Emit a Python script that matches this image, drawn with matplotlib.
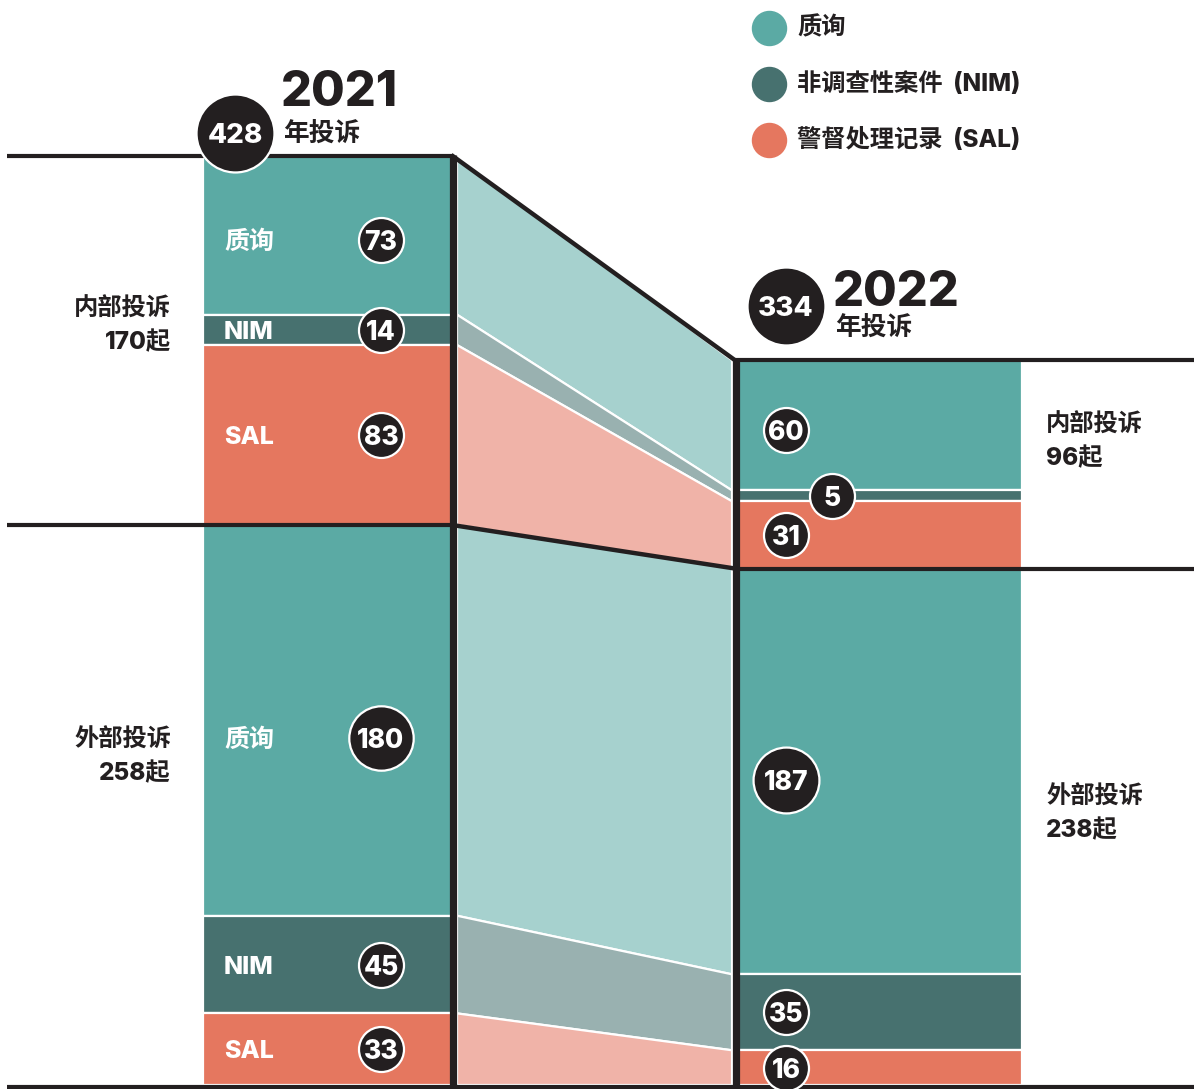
import numpy as np
import matplotlib
matplotlib.use('Agg')
import matplotlib.pyplot as plt

plt.rcParams['font.family'] = ['Inter', 'Noto Sans CJK SC', 'DejaVu Sans']

# data
categories = ['质询', 'NIM', 'SAL']
internal_2021 = [73, 14, 83]
external_2021 = [180, 45, 33]
internal_2022 = [60, 5, 31]
external_2022 = [187, 35, 16]
legend_labels = ['质询', '非调查性案件 (NIM)', '警督处理记录 (SAL)']
group_names = ['内部投诉', '外部投诉']

colors = ['#5BAAA4', '#47716F', '#E5775F']
light = ['#A6D1CE', '#99B1B0', '#F0B3A8']
ink = '#231F20'

K = 2.17  # pixels per complaint
py = lambda p: (1085 - p) / K  # pixel row -> data units (for text placement)

fig = plt.figure(figsize=(11.94, 10.89), dpi=100)
ax = fig.add_axes([0, 0, 1, 1])
ax.set_xlim(0, 1194)
ax.set_ylim(py(1089), py(0))
ax.axis('off')


def stack(internal, external):
    vals = np.array(internal + external, dtype=float)
    tops = vals.sum() - np.concatenate([[0], np.cumsum(vals)[:-1]])
    return vals, tops - vals, tops


v1, b1, t1 = stack(internal_2021, external_2021)
v2, b2, t2 = stack(internal_2022, external_2022)
cols = colors * 2

ax.bar(203, v1, 250, bottom=b1, align='edge', color=cols, edgecolor='white', linewidth=1.6, zorder=2)
ax.bar(735, v2, 287, bottom=b2, align='edge', color=cols, edgecolor='white', linewidth=1.6, zorder=2)

# flows
for i in range(6):
    ax.fill([457, 732, 732, 457], [t1[i], t2[i], b2[i], b1[i]], color=light[i % 3],
            edgecolor='white', linewidth=1.6, zorder=1)

# black frame lines
tot1, tot2 = v1.sum(), v2.sum()
int1, int2 = sum(external_2021), sum(external_2022)
ax.plot([7, 453], [tot1, tot1], color=ink, lw=3, zorder=4, solid_capstyle='butt')
ax.plot([7, 453], [int1, int1], color=ink, lw=3, zorder=4, solid_capstyle='butt')
ax.plot([735, 1194], [tot2, tot2], color=ink, lw=3, zorder=4, solid_capstyle='butt')
ax.plot([735, 1194], [int2, int2], color=ink, lw=3, zorder=4, solid_capstyle='butt')
ax.plot([453, 735], [tot1, tot2], color=ink, lw=3.2, zorder=4)
ax.plot([453, 735], [int1, int2], color=ink, lw=3.2, zorder=4)
ax.plot([453, 453], [0, tot1 + 0.8], color=ink, lw=5.2, zorder=4, solid_capstyle='butt')
ax.plot([735.5, 735.5], [0, tot2 + 0.8], color=ink, lw=5.2, zorder=4, solid_capstyle='butt')
ax.plot([7, 1194], [py(1087), py(1087)], color=ink, lw=3, zorder=4, solid_capstyle='butt')


def badge(x, y, txt, size=1050, fs=19):
    ax.scatter([x], [y], s=size, color=ink, edgecolor='white', linewidth=1.6, zorder=6)
    ax.text(x, y, txt, color='white', fontsize=fs, fontweight='heavy', ha='center',
            va='center_baseline', zorder=7)


mid1 = (t1 + b1) / 2
mid2 = (t2 + b2) / 2
off1 = [-2, 0, 0, -8, 0, 0]
off2 = [-2, 0, 0, -4, 0, 0]
for i in range(6):
    big = v1[i] >= 100
    badge(381, mid1[i] + off1[i], f'{int(v1[i])}', 2150 if big else 1050)
    ax.text(224, mid1[i] + off1[i], categories[i % 3], color='white', fontsize=18,
            fontweight='heavy', ha='left', va='center_baseline', zorder=5)
for i in range(6):
    big = v2[i] >= 100
    x = 832 if v2[i] < 10 else 786
    badge(x, mid2[i] + off2[i], f'{int(v2[i])}', 2250 if big else 1050)

# totals and titles
badge(235, py(133), f'{int(tot1)}', 3150, 20)
badge(786, py(306), f'{int(tot2)}', 3150, 20)
ax.text(281, py(106), '2021', fontsize=35, fontweight='heavy', color=ink, va='baseline')
ax.text(283, py(134), '年投诉', fontsize=18.5, fontweight='heavy', color=ink, va='center')
ax.text(833, py(306), '2022', fontsize=35, fontweight='heavy', color=ink, va='baseline')
ax.text(835, py(328), '年投诉', fontsize=18.5, fontweight='heavy', color=ink, va='center')

# group labels
side = [(171, 309, 'right', group_names[0], f'{sum(internal_2021)}起'),
        (171, 740, 'right', group_names[1], f'{sum(external_2021)}起'),
        (1046, 425, 'left', group_names[0], f'{sum(internal_2022)}起'),
        (1046, 797, 'left', group_names[1], f'{sum(external_2022)}起')]
for x, y, ha, a, b in side:
    ax.text(x, py(y), a, fontsize=17.5, fontweight='heavy', color=ink, ha=ha, va='center')
    ax.text(x, py(y + 33), b, fontsize=17.5, fontweight='heavy', color=ink, ha=ha, va='center')

# legend
for i, lab in enumerate(legend_labels):
    y = py(28 + 56 * i)
    ax.scatter([769], [y], s=600, color=colors[i], zorder=5)
    ax.text(797, y, lab.replace(' (', '  ('), fontsize=17.5, fontweight='heavy', color=ink, va='center')

fig.savefig('out.png', dpi=100)
